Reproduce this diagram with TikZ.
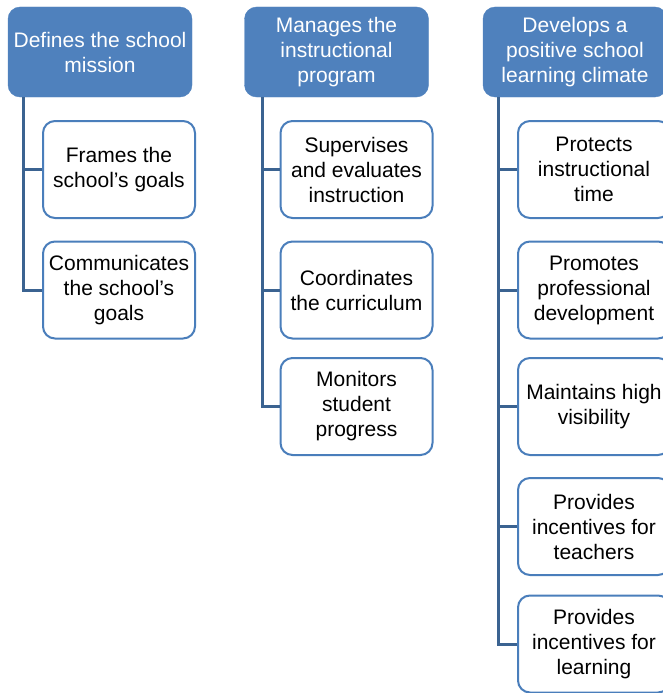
\documentclass[tikz,border=0pt]{standalone}
\usepackage{fontspec}
\setmainfont{Liberation Sans}
\usepackage{tikz}
\usetikzlibrary{positioning}
\usepackage{xcolor}

\definecolor{headblue}{HTML}{4F81BD}
\definecolor{edgeblue}{HTML}{4A7EBB}
\definecolor{lineblue}{HTML}{3B6391}

\tikzset{
  headbox/.style={draw=headblue, fill=headblue, rounded corners=12pt, minimum width=184pt, minimum height=90pt,
    align=center, text=white, font=\fontsize{21}{25}\selectfont, inner sep=2pt},
  itembox/.style={draw=edgeblue, line width=2pt, fill=white, rounded corners=12pt, minimum width=152pt, minimum height=97pt,
    align=center, font=\fontsize{21}{25}\selectfont, inner sep=2pt},
  link/.style={draw=lineblue, line width=3pt}
}

\begin{document}
\begin{tikzpicture}[x=1pt, y=-1pt]
\useasboundingbox (0,0) rectangle (662,693);

% column headers
\node[headbox] (mission) at (100,52) {Defines the school\\mission};
\node[headbox] (program) at (336.5,52) {Manages the\\instructional\\program};
\node[headbox] (climate) at (575,52) {Develops a\\positive school\\learning climate};

% trunk start points under each header
\coordinate (mtrunk) at ([xshift=16pt]mission.south west);
\coordinate (ptrunk) at ([xshift=18pt]program.south west);
\coordinate (ctrunk) at ([xshift=16pt]climate.south west);

% first column
\node[itembox] (goals) at (119,169.5) {Frames the\\school's goals};
\node[itembox] (comm) at (119,290) {Communicates\\the school's\\goals};

% second column
\node[itembox] (superv) at (356.5,169.5) {Supervises\\and evaluates\\instruction};
\node[itembox] (curric) at (356.5,290) {Coordinates\\the curriculum};
\node[itembox] (monit) at (356.5,406.5) {Monitors\\student\\progress};

% third column
\node[itembox] (prottime) at (594,169.5) {Protects\\instructional\\time};
\node[itembox] (profdev) at (594,290) {Promotes\\professional\\development};
\node[itembox] (visib) at (594,406.5) {Maintains high\\visibility};
\node[itembox] (incteach) at (594,526.5) {Provides\\incentives for\\teachers};
\node[itembox] (inclearn) at (594,644) {Provides\\incentives for\\learning};

% connectors
\foreach \kid in {goals, comm}
  \draw[link] (mtrunk) |- (\kid.west);
\foreach \kid in {superv, curric, monit}
  \draw[link] (ptrunk) |- (\kid.west);
\foreach \kid in {prottime, profdev, visib, incteach, inclearn}
  \draw[link] (ctrunk) |- (\kid.west);
\end{tikzpicture}
\end{document}
